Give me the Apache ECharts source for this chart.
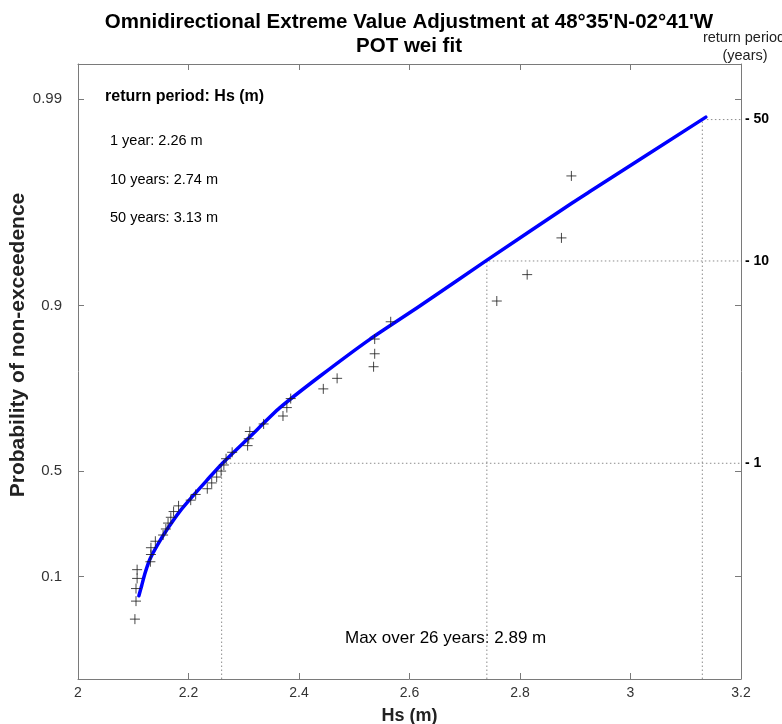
<!DOCTYPE html>
<html>
<head>
<meta charset="utf-8">
<script src="https://cdn.jsdelivr.net/npm/echarts@6/dist/echarts.min.js"></script>
<style>html,body{margin:0;padding:0;background:#fff;overflow:hidden;}#c{width:782px;height:724px;}</style>
</head>
<body>
<div id="c"></div>
<script>
// ---- data ----
const obsHs = [2.103,2.105,2.105,2.107,2.107,2.131,2.132,2.132,2.140,2.154,2.159,2.163,2.168,2.173,2.182,2.204,2.213,2.234,2.242,2.251,2.259,2.264,2.268,2.279,2.307,2.309,2.311,2.336,2.371,2.378,2.385,2.444,2.469,2.535,2.537,2.537,2.566,2.758,2.813,2.875,2.893];
const obsP = [0.0238,0.0476,0.0714,0.0952,0.1190,0.1429,0.1667,0.1905,0.2143,0.2381,0.2619,0.2857,0.3095,0.3333,0.3571,0.3810,0.4048,0.4286,0.4524,0.4762,0.5000,0.5238,0.5476,0.5714,0.5952,0.6190,0.6429,0.6667,0.6905,0.7143,0.7381,0.7619,0.7857,0.8095,0.8333,0.8571,0.8810,0.9048,0.9286,0.9524,0.9762];
const fitHs = [2.1102,2.1151,2.1210,2.1301,2.1445,2.1626,2.1843,2.2096,2.2331,2.2602,2.3107,2.3650,2.4372,2.5275,2.6179,2.7389,2.8943,2.9250,3.1364];
const fitP = [0.0570,0.0771,0.1074,0.1508,0.2029,0.2645,0.3342,0.4031,0.4627,0.5279,0.6251,0.7133,0.7896,0.8563,0.8992,0.9388,0.96775,0.97148,0.98774];
const probTicks = [0.1, 0.5, 0.9, 0.99];
const rpYears = [1, 10, 50];
const rpHs = [2.26, 2.74, 3.13];
const nYears = 26;
const maxHs = 2.89;
const xTicks = {min: 2, max: 3.2, interval: 0.2};

// ---- scales ----
const gum = p => -Math.log(-Math.log(p));          // Gumbel reduced variate (probability paper)
const lambda = obsHs.length / nYears;               // events per year
const rpPos = T => Math.log(lambda * T);            // return period position on the same paper
const yMin = -2, yMax = 5;

const probPos = probTicks.map(gum);
const rpPositions = rpYears.map(rpPos);

const obsData = obsHs.map((x, i) => [x, gum(obsP[i])]);
const fitData = fitHs.map((x, i) => [x, gum(fitP[i])]);

const dotted = rpYears.map((T, i) => ({
  type: 'line', xAxisIndex: 0, yAxisIndex: 0, symbol: 'none', silent: true, z: 1,
  lineStyle: {type: [1.5, 2.5], color: '#8c8c8c', width: 1},
  data: [[rpHs[i], yMin], [rpHs[i], rpPositions[i]], [xTicks.max, rpPositions[i]]]
}));

const FONT = '"Liberation Sans", Arial, Helvetica, sans-serif';
const chart = echarts.init(document.getElementById('c'), null, {width: 782, height: 724});
const gray = '#7a7a7a';

const option = {
  animation: false,
  backgroundColor: '#fff',
  grid: {left: 78, width: 663, top: 64, height: 615, containLabel: false, outerBoundsMode: 'none'},
  xAxis: [{
    type: 'value', min: xTicks.min, max: xTicks.max, interval: xTicks.interval, position: 'bottom',
    name: 'Hs (m)', nameLocation: 'middle', nameGap: 28,
    nameTextStyle: {fontFamily: FONT, fontWeight: 'bold', fontSize: 18, color: '#222'},
    axisLine: {show: true, onZero: false, lineStyle: {color: gray, width: 1}},
    axisTick: {show: true, inside: true, length: 6, lineStyle: {color: gray}},
    axisLabel: {fontFamily: FONT, fontSize: 14, color: '#333', margin: 7},
    splitLine: {show: false}
  }, {
    type: 'value', min: xTicks.min, max: xTicks.max, interval: xTicks.interval, position: 'top',
    axisLine: {show: true, onZero: false, lineStyle: {color: gray, width: 1}},
    axisTick: {show: true, inside: true, length: 6, lineStyle: {color: gray}},
    axisLabel: {show: false}, splitLine: {show: false}
  }],
  yAxis: [{
    type: 'value', min: yMin, max: yMax, position: 'left',
    axisLine: {show: true, onZero: false, lineStyle: {color: gray, width: 1}},
    axisTick: {show: true, inside: true, length: 6, customValues: probPos, lineStyle: {color: gray}},
    axisLabel: {
      fontFamily: FONT, fontSize: 15, color: '#333', margin: 16, customValues: probPos,
      formatter: v => {
        let best = 0;
        probPos.forEach((p, i) => { if (Math.abs(p - v) < Math.abs(probPos[best] - v)) best = i; });
        return String(probTicks[best]);
      }
    },
    splitLine: {show: false}
  }, {
    type: 'value', min: yMin, max: yMax, position: 'right',
    axisLine: {show: true, onZero: false, lineStyle: {color: gray, width: 1}},
    axisTick: {show: true, inside: true, length: 6, customValues: probPos, lineStyle: {color: gray}},
    axisLabel: {
      fontFamily: FONT, fontSize: 14, fontWeight: 'bold', color: '#000', margin: 4, customValues: rpPositions,
      formatter: v => {
        let best = 0;
        rpPositions.forEach((p, i) => { if (Math.abs(p - v) < Math.abs(rpPositions[best] - v)) best = i; });
        return '- ' + rpYears[best];
      }
    },
    splitLine: {show: false}
  }],
  series: [
    ...dotted,
    {
      type: 'line', name: 'fit', data: fitData, symbol: 'none', smooth: 0.2, z: 3,
      lineStyle: {color: '#0000ff', width: 3.5, join: 'round', cap: 'round'}
    },
    {
      type: 'scatter', name: 'obs', data: obsData, z: 4,
      symbol: 'path://M5,0L5,10M0,5L10,5', symbolSize: 10,
      itemStyle: {color: 'none', borderColor: '#1a1a1a', borderWidth: 1}
    }
  ],
  graphic: [
    {type: 'text', x: 409, y: 22, style: {text: "Omnidirectional Extreme Value Adjustment at 48°35'N-02°41'W", font: 'bold 20.5px ' + FONT, fill: '#000', align: 'center', verticalAlign: 'middle'}},
    {type: 'text', x: 409, y: 46, style: {text: 'POT wei fit', font: 'bold 20.5px ' + FONT, fill: '#000', align: 'center', verticalAlign: 'middle'}},
    {type: 'text', x: 18, y: 345, rotation: Math.PI / 2, style: {text: 'Probability of non-exceedence', font: 'bold 21px ' + FONT, fill: '#222', align: 'center', verticalAlign: 'middle'}},
    {type: 'text', x: 744, y: 38, style: {text: 'return period', font: '14.5px ' + FONT, fill: '#222', align: 'center', verticalAlign: 'middle'}},
    {type: 'text', x: 745, y: 56, style: {text: '(years)', font: '14.5px ' + FONT, fill: '#222', align: 'center', verticalAlign: 'middle'}},
    {type: 'text', x: 105, y: 97, style: {text: 'return period: Hs (m)', font: 'bold 16px ' + FONT, fill: '#000', align: 'left', verticalAlign: 'middle'}},
    ...rpYears.map((T, i) => ({type: 'text', x: 110, y: 141 + i * 38.5, style: {text: T + (T === 1 ? ' year: ' : ' years: ') + rpHs[i].toFixed(2) + ' m', font: '14.5px ' + FONT, fill: '#000', align: 'left', verticalAlign: 'middle'}})),
    {type: 'text', x: 345, y: 638, style: {text: 'Max over ' + nYears + ' years: ' + maxHs.toFixed(2) + ' m', font: '17px ' + FONT, fill: '#000', align: 'left', verticalAlign: 'middle'}}
  ]
};
chart.setOption(option);
</script>
</body>
</html>
